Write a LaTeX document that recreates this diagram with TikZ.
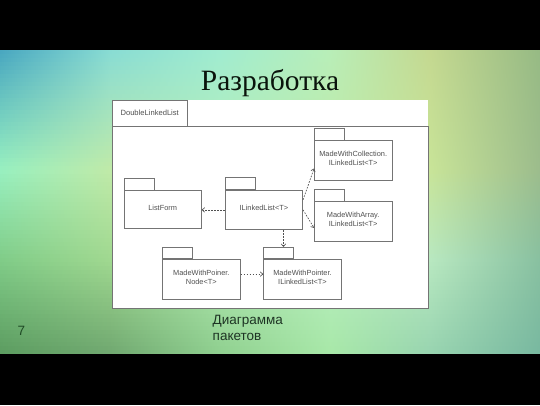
\documentclass[tikz,border=0pt]{standalone}
\usepackage{fontspec}
\setmainfont{Liberation Sans}
\newfontfamily\titlefont{Liberation Serif}
\usetikzlibrary{arrows.meta,calc}
% background control colours (rows: y=50,170,260,354; columns: x=0,110,220,330,430,540)
\definecolor{r0c0}{HTML}{48A6C0}\definecolor{r0c1}{HTML}{88DCD4}\definecolor{r0c2}{HTML}{A0ECD0}
\definecolor{r0c3}{HTML}{B8EEB8}\definecolor{r0c4}{HTML}{C4D890}\definecolor{r0c5}{HTML}{96BA84}
\definecolor{r1c0}{HTML}{98F0C0}\definecolor{r1c1}{HTML}{C0EAA8}\definecolor{r1c2}{HTML}{B8EEB8}
\definecolor{r1c3}{HTML}{C0EAA8}\definecolor{r1c4}{HTML}{C8E498}\definecolor{r1c5}{HTML}{9CBC8C}
\definecolor{r2c0}{HTML}{80CC88}\definecolor{r2c1}{HTML}{A0D890}\definecolor{r2c2}{HTML}{B0E8B0}
\definecolor{r2c3}{HTML}{B8EEC0}\definecolor{r2c4}{HTML}{B8E8C0}\definecolor{r2c5}{HTML}{88C0A0}
\definecolor{r3c0}{HTML}{5C9C60}\definecolor{r3c1}{HTML}{70A870}\definecolor{r3c2}{HTML}{90D090}
\definecolor{r3c3}{HTML}{A8E8A8}\definecolor{r3c4}{HTML}{98D4B0}\definecolor{r3c5}{HTML}{78B8A0}
\definecolor{linegray}{HTML}{747474}
\definecolor{textgray}{HTML}{505050}
\definecolor{arrowgray}{HTML}{505050}
\definecolor{captiongreen}{HTML}{1E3424}
\definecolor{numgreen}{HTML}{1F4A25}
\definecolor{titleblack}{HTML}{0A140C}
\begin{document}
\begin{tikzpicture}[x=1pt,y=-1pt,
  pkg/.style={draw=linegray, line width=0.8pt, fill=white, minimum width=77.5pt,
    minimum height=39.5pt, inner sep=0pt},
  pkgtab/.style={draw=linegray, line width=0.8pt, fill=white, minimum width=30pt,
    minimum height=11.5pt, inner sep=0pt, anchor=south west},
  pkgtext/.style={font=\fontsize{7.4}{8.7}\selectfont, text=textgray, align=center, inner sep=0pt},
  dep/.style={draw=arrowgray, line width=0.65pt, dash pattern=on 1.6pt off 1.4pt,
    -{Straight Barb[length=2.5pt,width=4.5pt]}},
  frame/.style={draw=linegray, line width=0.8pt, inner sep=0pt}]
\useasboundingbox (0,0) rectangle (540,405);
% background gradient
\foreach \k in {0,...,75}{
  \pgfmathsetmacro{\yy}{50+4*\k}
  \pgfmathsetmacro{\ym}{\yy+2}
  \pgfmathtruncatemacro{\seg}{\ym<170 ? 0 : (\ym<260 ? 1 : 2)}
  \pgfmathtruncatemacro{\segn}{\seg+1}
  \pgfmathsetmacro{\ya}{{50,170,260,354}[\seg]}
  \pgfmathsetmacro{\yb}{{50,170,260,354}[\segn]}
  \pgfmathtruncatemacro{\pp}{round(100*(\ym-\ya)/(\yb-\ya))}
  \colorlet{m0}{r\segn c0!\pp!r\seg c0}
  \colorlet{m1}{r\segn c1!\pp!r\seg c1}
  \colorlet{m2}{r\segn c2!\pp!r\seg c2}
  \colorlet{m3}{r\segn c3!\pp!r\seg c3}
  \colorlet{m4}{r\segn c4!\pp!r\seg c4}
  \colorlet{m5}{r\segn c5!\pp!r\seg c5}
  \pgfdeclarehorizontalshading{bgs\k}{100bp}{color(0bp)=(m0); color(25bp)=(m0);
    color(35.185bp)=(m1); color(45.37bp)=(m2); color(55.556bp)=(m3);
    color(64.815bp)=(m4); color(75bp)=(m5); color(100bp)=(m5)}
  \shade[shading=bgs\k] (0,\yy) rectangle (540,\yy+4.6);
}
% black bars
\fill[black] (0,0) rectangle (540,50);
\fill[black] (0,354) rectangle (540,405);
% title
\node[font=\titlefont\fontsize{29.5}{32}\selectfont, text=titleblack, anchor=base, inner sep=0pt]
  (title) at (270,90.3) {Разработка};
% panel
\fill[white] (112,99.5) rectangle (428,308);
\node[frame, minimum width=74.6pt, minimum height=26.5pt, anchor=north west,
  font=\fontsize{7.6}{9}\selectfont, text=textgray] (dlltab) at (112,99.5) {DoubleLinkedList};
\node[frame, minimum width=316pt, minimum height=182pt, anchor=north west] (dll) at (112,126) {};
% packages
\node[pkg, minimum width=77.3pt, minimum height=37.3pt] (lf) at (162.65,209.35) {};
\node[pkg] (il) at (263.9,209.9) {};
\node[pkg] (mc) at (353.2,160.45) {};
\node[pkg] (ma) at (353.2,221.5) {};
\node[pkg, minimum width=77.7pt] (mn) at (201.35,279.35) {};
\node[pkg, minimum width=77.7pt] (mp) at (302.5,279.35) {};
\foreach \p in {lf,il,mc,ma,mn,mp}{\node[pkgtab] (\p-tab) at (\p.north west) {};}
\node[pkgtext] (lf-t) at ([yshift=2pt]lf.center) {ListForm};
\node[pkgtext] (il-t) at ([yshift=2pt]il.center) {ILinkedList<T>};
\node[pkgtext] (mc-t) at ([yshift=2pt]mc.center) {MadeWithCollection.\\ILinkedList<T>};
\node[pkgtext] (ma-t) at ([yshift=2pt]ma.center) {MadeWithArray.\\ILinkedList<T>};
\node[pkgtext] (mn-t) at ([yshift=2pt]mn.center) {MadeWithPoiner.\\Node<T>};
\node[pkgtext] (mp-t) at ([yshift=2pt]mp.center) {MadeWithPointer.\\ILinkedList<T>};
% dependencies
\draw[dep] (il.west) -- (il.west -| lf.east);
\draw[dep] ($(il.north east)!0.25!(il.south east)$) -- ($(mc.north west)!0.7!(mc.south west)$);
\draw[dep] (il.east) -- ($(ma.north west)!0.66!(ma.south west)$);
\coordinate (ilb) at ($(il.south west)!0.75!(il.south east)$);
\draw[dep] (ilb) -- (ilb |- mp-tab.north);
\coordinate (mnr) at ($(mn.north east)!0.37!(mn.south east)$);
\draw[dep] (mnr) -- (mnr -| mp.west);
% caption and page number
\node[font=\fontsize{13.5}{16}\selectfont, text=captiongreen, anchor=base west, inner sep=0pt]
  (cap1) at (212.5,324.7) {Диаграмма};
\node[font=\fontsize{13.5}{16}\selectfont, text=captiongreen, anchor=base west, inner sep=0pt]
  (cap2) at (212.5,340.7) {пакетов};
\node[font=\fontsize{13.5}{16}\selectfont, text=numgreen, anchor=base, inner sep=0pt]
  (num) at (21.3,335.7) {7};
\end{tikzpicture}
\end{document}
